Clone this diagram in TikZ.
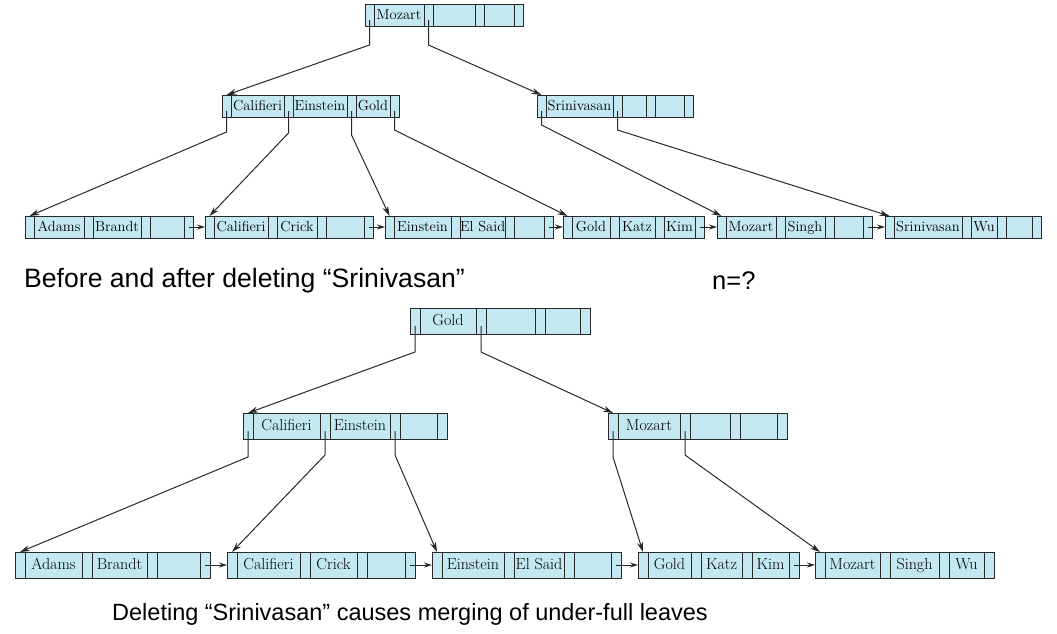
\documentclass[tikz,border=0pt]{standalone}
\usepackage{fontspec}
\newfontfamily\capfont{Liberation Sans}
\usetikzlibrary{arrows.meta}
\definecolor{cellfill}{RGB}{196,232,242}
\definecolor{linecol}{RGB}{40,40,40}
\newcommand\bnode[9]{%
 \node[ptr,anchor=north west] (#1-p1) at (#2,#3) {};
 \node[key,minimum width=#5,anchor=north west] (#1-k1) at (#1-p1.north east) {#4};
 \node[ptr,anchor=north west] (#1-p2) at (#1-k1.north east) {};
 \node[key,minimum width=#7,anchor=north west] (#1-k2) at (#1-p2.north east) {#6};
 \node[ptr,anchor=north west] (#1-p3) at (#1-k2.north east) {};
 \node[key,minimum width=#9,anchor=north west] (#1-k3) at (#1-p3.north east) {#8};
 \node[ptr,anchor=north west] (#1-p4) at (#1-k3.north east) {};
}
\begin{document}
\begin{tikzpicture}[x=1pt,y=-1pt,
  cell/.style={draw=linecol,fill=cellfill,line width=1pt,inner sep=0pt,outer sep=0pt,minimum height=\bch},
  ptr/.style={cell,minimum width=\bpw},
  key/.style={cell,font=\bkf,text height=0.84em,text depth=0pt},
  arr/.style={draw=linecol,line width=1pt,-{Stealth[length=10pt,width=6pt]}},
  sib/.style={draw=linecol,line width=1pt,-{Stealth[length=8pt,width=5pt]}},
  captxt/.style={font=\capfont\fontsize{26.6}{31}\selectfont,anchor=west,inner sep=0pt}]
\useasboundingbox (0,0) rectangle (1057,633);
% ---------- upper tree ----------
\def\bpw{9}\def\bch{22}\def\bkf{\fontsize{14.5}{16}\selectfont}
\bnode{r}{365}{4}{Mozart}{50}{}{42}{}{30}
\bnode{ca}{222}{95}{Califieri}{53}{Einstein}{54}{Gold}{34}
\bnode{sr}{537}{95}{Srinivasan}{67}{}{24}{}{29}
\bnode{l1}{25}{216}{Adams}{50}{Brandt}{48}{}{34}
\bnode{l2}{205}{216}{Califieri}{54}{Crick}{40}{}{38}
\bnode{l3}{385}{216}{Einstein}{57}{El Said}{45}{}{30}
\bnode{l4}{563}{216}{Gold}{38}{Katz}{36}{Kim}{31}
\bnode{l5}{717}{216}{Mozart}{50}{Singh}{40}{}{29}
\bnode{l6}{885}{216}{Srinivasan}{68}{Wu}{26}{}{26}
\draw[arr] ([yshift=-5pt]r-p1.center) -- ++(0,25) -- (ca-p1.north);
\draw[arr] ([yshift=-5pt]r-p2.center) -- ++(0,25) -- (sr-p1.north);
\draw[arr] ([yshift=-5pt]ca-p1.center) -- ++(0,21) -- (l1-p1.north);
\draw[arr] ([yshift=-5pt]ca-p2.center) -- ++(0,22) -- (l2-p1.north);
\draw[arr] ([yshift=-5pt]ca-p3.center) -- ++(0,24) -- (l3-p1.north);
\draw[arr] ([yshift=-5pt]ca-p4.center) -- ++(0,19) -- (l4-p1.north);
\draw[arr] ([yshift=-5pt]sr-p1.center) -- ++(0,14) -- (l5-p1.north);
\draw[arr] ([yshift=-5pt]sr-p2.center) -- ++(0,19) -- (l6-p1.north);
\foreach \a/\b in {l1/l2,l2/l3,l3/l4,l4/l5,l5/l6}
  \draw[sib] (\a-p4.center) -- (\b-p1.west);
\node[captxt] (c1) at (24,281) {Before and after deleting “Srinivasan”};
\node[captxt,font=\capfont\fontsize{25.5}{30}\selectfont] (c2) at (712,281) {n=?};
% ---------- lower tree ----------
\def\bpw{10}\def\bch{26}\def\bkf{\fontsize{16}{18}\selectfont}
\bnode{R}{410}{308}{Gold}{56}{}{49}{}{35}
\bnode{CA}{243}{413}{Califieri}{67}{Einstein}{60}{}{37}
\bnode{MO}{608}{413}{Mozart}{62}{}{40}{}{37}
\bnode{L1}{15}{552}{Adams}{57}{Brandt}{55}{}{43}
\bnode{L2}{227}{552}{Califieri}{63}{Crick}{47}{}{38}
\bnode{L3}{432}{552}{Einstein}{62}{El Said}{50}{}{37}
\bnode{L4}{638}{552}{Gold}{43}{Katz}{41}{Kim}{37}
\bnode{L5}{815}{552}{Mozart}{55}{Singh}{49}{Wu}{35}
\draw[arr] ([yshift=-5pt]R-p1.center) -- ++(0,26) -- (CA-p1.north);
\draw[arr] ([yshift=-5pt]R-p2.center) -- ++(0,26) -- (MO-p1.north);
\draw[arr] ([yshift=-5pt]CA-p1.center) -- ++(0,26) -- (L1-p1.north);
\draw[arr] ([yshift=-5pt]CA-p2.center) -- ++(0,24) -- (L2-p1.north);
\draw[arr] ([yshift=-5pt]CA-p3.center) -- ++(0,24) -- (L3-p1.north);
\draw[arr] ([yshift=-5pt]MO-p1.center) -- ++(0,26) -- (L4-p1.north);
\draw[arr] ([yshift=-5pt]MO-p2.center) -- ++(0,24) -- (L5-p1.north);
\foreach \a/\b in {L1/L2,L2/L3,L3/L4,L4/L5}
  \draw[sib] (\a-p4.center) -- (\b-p1.west);
\node[captxt,font=\capfont\fontsize{23.5}{28}\selectfont] (c3) at (112,614) {Deleting “Srinivasan” causes merging of under-full leaves};
\end{tikzpicture}
\end{document}
